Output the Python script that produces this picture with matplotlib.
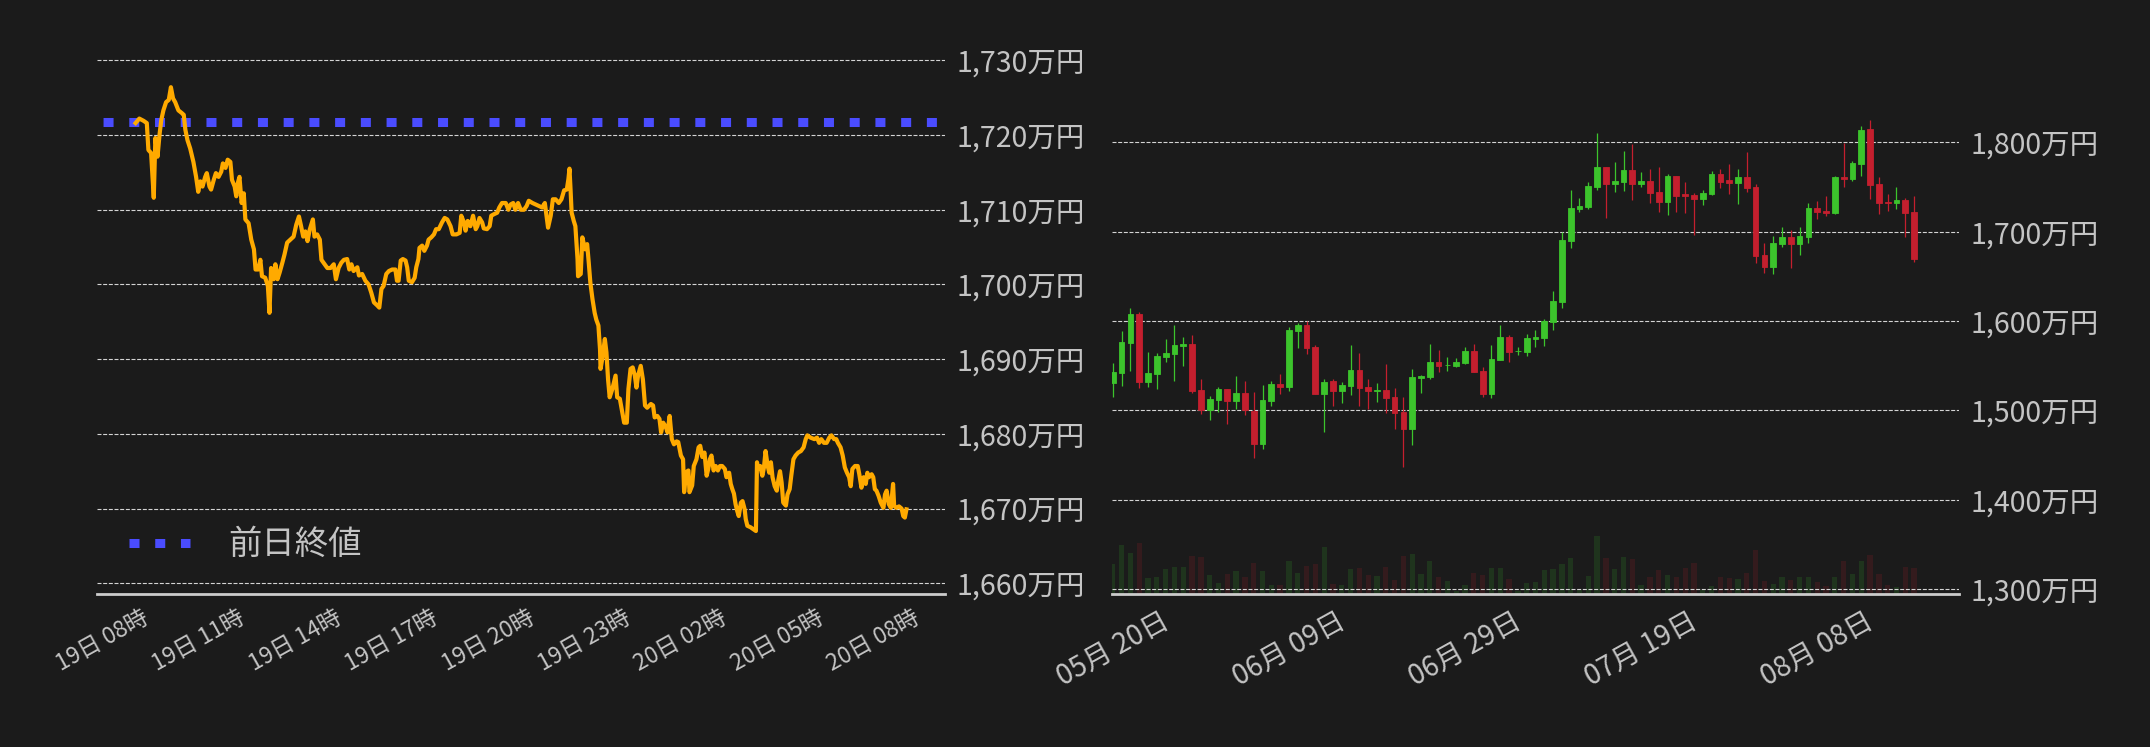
import matplotlib
matplotlib.use("Agg")
import matplotlib.pyplot as plt
from matplotlib.lines import Line2D
from matplotlib.ticker import FuncFormatter

plt.rcParams['font.family'] = ['Noto Sans CJK JP', 'DejaVu Sans']

# ---- intraday (19日 09:00 -> 20日 09:00), minutes from 19日 09:00, 万円
minutes = [2, 9, 17, 23, 26, 31, 36, 39, 43, 47, 50, 54, 59, 64, 68, 72, 76, 82, 89, 92,
           95, 99, 104, 110, 115, 119, 123, 127, 132, 135, 140, 143, 148, 152, 157, 162, 165, 170, 174, 179,
           182, 187, 190, 193, 196, 200, 204, 207, 213, 218, 223, 226, 231, 235, 238, 244, 249, 252, 255, 260,
           263, 267, 271, 276, 280, 285, 291, 297, 302, 307, 311, 315, 319, 323, 327, 333, 336, 341, 346, 349,
           355, 360, 366, 372, 376, 381, 386, 391,
           397, 401, 405, 409, 416, 419, 425, 431, 437, 442, 447, 453, 457, 461, 465, 470, 475, 481, 487, 490,
           493, 497, 501, 506, 509, 512, 518, 523, 526, 530, 532, 537, 541, 546, 549, 554, 559, 563, 568, 574,
           579, 584, 590, 594, 601, 607, 610, 615, 618, 622, 627, 632, 637, 640, 644, 649, 652, 658, 663, 666,
           671, 677, 681, 686, 693, 698, 702, 707, 711, 716, 721, 727, 732, 736, 743, 749, 755, 761, 766, 769,
           772, 777, 781,
           786, 792, 797, 802, 807, 810, 812, 814, 816, 820, 823, 827, 828, 833, 836, 841, 845, 848, 851, 855,
           859, 862, 866, 869, 870, 874, 878, 881, 884, 887, 892, 895, 898, 901, 906, 909, 914, 919, 922, 926,
           930, 934, 937, 940, 945, 949, 953, 957, 964, 968, 971, 976, 980, 983, 987, 992, 995, 999, 1003, 1007,
           1012, 1015, 1020, 1024, 1026, 1030, 1034, 1036, 1041, 1044, 1049, 1053, 1056, 1060, 1064, 1068, 1071,
           1074, 1077, 1081, 1085, 1089, 1093, 1097, 1102, 1105, 1110, 1113, 1116, 1119, 1122, 1125, 1128,
           1132, 1135, 1139, 1141, 1144, 1150, 1156, 1160, 1162, 1164, 1168, 1172, 1175, 1178, 1182, 1185, 1188,
           1191, 1195, 1199, 1202, 1205, 1208, 1211, 1216, 1219, 1223, 1226, 1230, 1234, 1239, 1244, 1249, 1253,
           1256, 1262, 1269, 1274, 1278, 1282, 1287, 1292, 1297, 1301, 1306, 1310, 1313, 1318, 1322, 1326, 1330,
           1334, 1337, 1340, 1345, 1350, 1353, 1357, 1361, 1365, 1368, 1371, 1376, 1379, 1382, 1385, 1389, 1393,
           1398, 1401, 1404, 1408, 1412, 1416, 1418, 1422, 1427, 1432, 1435, 1438, 1441]
price = [1721.6, 1722.2, 1721.9, 1721.6, 1718.0, 1717.6, 1711.6, 1719.6, 1717.1, 1720.2, 1722.0, 1723.3, 1724.4, 1724.7, 1726.4, 1724.9, 1724.4, 1723.3, 1722.9, 1722.7,
         1720.7, 1719.3, 1718.2, 1716.4, 1714.4, 1712.4, 1713.8, 1713.1, 1714.4, 1714.9, 1713.1, 1712.7, 1714.0, 1714.9, 1714.4, 1715.1, 1716.2, 1715.6, 1716.7, 1716.4,
         1714.0, 1713.1, 1711.8, 1713.6, 1714.4, 1710.9, 1712.2, 1708.7, 1708.2, 1706.0, 1704.7, 1702.0, 1702.0, 1703.3, 1701.1, 1700.9, 1699.8, 1696.2, 1702.2, 1700.7,
         1702.7, 1700.7, 1701.6, 1702.9, 1704.0, 1705.6, 1706.0, 1706.4, 1708.0, 1709.1, 1707.8, 1706.4, 1707.1, 1705.8, 1707.3, 1708.7, 1706.4, 1706.7, 1706.0, 1703.3,
         1702.7, 1702.2, 1702.2, 1702.7, 1700.7, 1702.2, 1702.9, 1703.3,
         1703.4, 1702.0, 1702.7, 1701.8, 1702.3, 1701.2, 1701.4, 1700.5, 1700.0, 1698.9, 1697.6, 1697.2, 1696.9, 1699.4, 1699.8, 1701.4, 1701.8, 1702.0, 1702.0, 1700.5,
         1700.5, 1703.2, 1703.4, 1703.2, 1702.3, 1700.5, 1700.3, 1700.9, 1702.3, 1703.4, 1704.9, 1705.2, 1704.5, 1705.2, 1706.0, 1706.3, 1706.7, 1707.4, 1707.4, 1708.3,
         1708.9, 1708.7, 1707.8, 1706.7, 1706.7, 1706.9, 1709.2, 1708.3, 1707.2, 1708.5, 1707.8, 1709.2, 1707.4, 1707.8, 1708.9, 1708.3, 1707.5, 1707.4, 1707.8, 1709.2,
         1709.4, 1709.6, 1710.3, 1710.9, 1710.9, 1710.0, 1710.7, 1710.9, 1710.0, 1710.9, 1710.0, 1710.0, 1710.5, 1711.2, 1710.9, 1710.7, 1710.5, 1710.3, 1710.9, 1709.2,
         1707.6, 1709.2, 1711.4,
         1711.4, 1710.9, 1711.4, 1712.6, 1712.7, 1714.1, 1715.5, 1712.7, 1709.6, 1708.5, 1707.8, 1703.4, 1701.1, 1701.4, 1706.3, 1704.7, 1705.4, 1702.9, 1700.2, 1698.0,
         1696.2, 1695.3, 1694.5, 1691.3, 1688.7, 1690.4, 1692.7, 1690.9, 1687.3, 1684.9, 1686.0, 1686.9, 1687.8, 1684.9, 1684.7, 1683.5, 1681.5, 1681.5, 1686.0, 1688.7,
         1688.9, 1687.8, 1686.2, 1687.8, 1689.1, 1687.3, 1683.8, 1683.5, 1684.0, 1683.8, 1682.2, 1682.4, 1682.0, 1680.2, 1681.5, 1680.9, 1680.2, 1682.4, 1679.3, 1678.6,
         1679.0, 1678.9, 1677.1, 1676.6, 1672.2, 1674.9, 1675.1, 1672.2, 1673.1, 1675.7, 1676.6, 1678.2, 1678.4, 1676.9, 1677.5, 1674.4, 1675.3,
         1676.6, 1677.1, 1675.1, 1675.7, 1675.1, 1675.7, 1675.7, 1675.3, 1674.2, 1674.8, 1673.3, 1672.6, 1672.0, 1670.6, 1669.7, 1669.0,
         1670.8, 1671.0, 1669.9, 1668.6, 1667.7, 1667.5, 1667.2, 1667.0, 1676.2, 1675.3, 1675.7, 1674.4, 1675.5, 1677.7, 1675.7, 1674.8, 1676.2,
         1674.2, 1673.0, 1672.4, 1673.9, 1675.0, 1673.5, 1670.8, 1670.4, 1671.9, 1672.6, 1674.4, 1676.6, 1677.1, 1677.5, 1677.7, 1678.2, 1679.3,
         1679.8, 1679.5, 1679.3, 1679.5, 1678.8, 1679.3, 1678.8, 1678.8, 1679.5, 1679.8, 1679.3, 1679.3, 1678.8, 1678.2, 1677.1, 1675.5, 1674.8,
         1674.2, 1673.0, 1675.3, 1675.7, 1675.7, 1674.6, 1672.8, 1674.2, 1673.3, 1674.8, 1674.2, 1674.6, 1674.2, 1672.6, 1672.4, 1671.7, 1670.8,
         1670.1, 1671.9, 1672.4, 1670.6, 1670.1, 1673.3, 1670.4, 1670.1, 1670.3, 1670.0, 1669.0, 1668.8, 1669.9]
prev_close = 1721.7
hour_ticks = [8, 11, 14, 17, 20, 23, 26, 29, 32]
hour_labels = ['19日 08時', '19日 11時', '19日 14時', '19日 17時', '19日 20時',
               '19日 23時', '20日 02時', '20日 05時', '20日 08時']
left_yticks = [1660, 1670, 1680, 1690, 1700, 1710, 1720, 1730]

# ---- daily candles from 05月20日 (index 0) to 08月19日 (index 91), 万円
opens = [1531.0, 1542.2, 1575.7, 1607.8, 1532.1, 1541.0, 1560.0, 1563.4, 1572.4, 1574.3,
         1522.8, 1500.7, 1511.9, 1523.9, 1510.8, 1519.4, 1499.6, 1462.7, 1510.8, 1529.5,
         1526.5, 1589.2, 1595.5, 1570.9, 1518.7, 1532.8, 1522.0, 1527.6, 1545.1, 1526.1,
         1522.0, 1522.8, 1514.9, 1498.1, 1479.5, 1536.6, 1537.7, 1554.1, 1550.4, 1550.0,
         1553.4, 1566.4, 1544.0, 1518.7, 1556.7, 1582.1, 1566.0, 1565.7, 1580.2, 1581.3,
         1598.5, 1621.6, 1689.9, 1725.7, 1728.0, 1750.4, 1772.4, 1753.7, 1756.0, 1769.0,
         1753.7, 1756.7, 1744.4, 1733.6, 1762.3, 1742.2, 1741.0, 1736.9, 1742.5, 1764.6,
         1757.8, 1754.9, 1761.2, 1750.0, 1673.9, 1660.8, 1686.6, 1694.0, 1686.6, 1694.4,
         1726.5, 1723.1, 1721.3, 1761.2, 1759.3, 1776.1, 1814.9, 1753.4, 1733.2, 1732.5,
         1735.4, 1722.0]
highs = [1553.0, 1588.8, 1614.6, 1610.1, 1565.3, 1564.2, 1579.9, 1595.5, 1582.1, 1584.3,
         1535.1, 1516.0, 1526.5, 1523.9, 1538.4, 1532.8, 1520.5, 1528.4, 1532.8, 1540.7,
         1593.3, 1597.8, 1599.6, 1573.1, 1535.1, 1535.1, 1531.7, 1573.1, 1564.2, 1535.1,
         1530.6, 1551.9, 1525.0, 1514.9, 1546.3, 1539.6, 1574.3, 1567.5, 1559.7, 1558.6,
         1570.9, 1574.3, 1548.5, 1573.1, 1595.5, 1584.3, 1570.9, 1585.4, 1589.9, 1602.2,
         1633.6, 1699.6, 1746.6, 1737.7, 1755.6, 1810.4, 1772.4, 1778.0, 1790.3, 1798.1,
         1766.8, 1770.1, 1772.4, 1764.6, 1762.3, 1755.6, 1743.3, 1746.6, 1767.9, 1770.1,
         1775.7, 1770.1, 1789.2, 1753.4, 1687.3, 1695.1, 1705.2, 1701.9, 1705.2, 1732.1,
         1734.3, 1739.9, 1762.3, 1799.3, 1779.1, 1818.3, 1825.0, 1761.2, 1742.2, 1750.0,
         1737.7, 1739.9]
lows = [1515.3, 1527.6, 1544.4, 1525.4, 1526.5, 1524.3, 1554.5, 1533.2, 1550.0, 1519.8,
        1496.3, 1489.6, 1498.5, 1485.1, 1501.9, 1495.1, 1447.0, 1457.1, 1505.2, 1518.7,
        1522.0, 1570.1, 1563.4, 1518.7, 1476.1, 1505.2, 1508.6, 1517.5, 1505.2, 1501.9,
        1509.7, 1497.4, 1479.5, 1436.9, 1461.6, 1519.8, 1535.4, 1543.3, 1544.4, 1548.9,
        1552.2, 1543.3, 1515.3, 1514.2, 1556.7, 1554.5, 1562.3, 1561.2, 1571.3, 1572.4,
        1590.3, 1614.9, 1682.1, 1722.4, 1725.7, 1747.0, 1715.7, 1744.8, 1745.9, 1735.8,
        1750.4, 1732.5, 1722.4, 1719.0, 1722.4, 1721.3, 1696.6, 1730.2, 1741.4, 1749.3,
        1742.5, 1731.3, 1744.8, 1665.3, 1654.1, 1653.0, 1683.2, 1659.7, 1674.3, 1687.7,
        1714.6, 1717.9, 1720.1, 1750.4, 1757.1, 1762.7, 1736.9, 1720.1, 1723.5, 1725.7,
        1694.4, 1666.4]
closes = [1542.5, 1576.5, 1607.8, 1532.1, 1541.4, 1560.4, 1564.2, 1573.1, 1574.3, 1522.0,
          1500.7, 1512.7, 1523.9, 1510.8, 1519.4, 1500.4, 1462.7, 1511.6, 1529.5, 1526.5,
          1589.9, 1595.5, 1570.1, 1518.7, 1531.7, 1522.0, 1528.4, 1545.1, 1525.4, 1522.0,
          1523.1, 1514.2, 1497.4, 1479.5, 1537.3, 1538.4, 1554.1, 1550.0, 1551.1, 1554.1,
          1566.4, 1543.3, 1518.7, 1557.5, 1582.1, 1565.7, 1566.8, 1581.0, 1582.1, 1599.6,
          1622.4, 1690.7, 1726.5, 1728.7, 1751.1, 1772.4, 1753.7, 1756.7, 1769.0, 1753.7,
          1756.7, 1743.7, 1733.6, 1762.3, 1740.3, 1740.3, 1736.9, 1743.3, 1764.6, 1756.0,
          1754.9, 1761.2, 1749.3, 1673.1, 1660.8, 1687.3, 1694.0, 1686.6, 1695.1, 1726.5,
          1722.4, 1721.3, 1761.2, 1759.3, 1776.9, 1813.8, 1752.6, 1732.5, 1732.5, 1735.4,
          1721.3, 1669.8]
volume = [90, 146, 122, 152, 47, 50, 74, 80, 80, 113, 110, 56, 32, 59, 68, 50, 92, 68, 26, 26,
          98, 62, 83, 89, 140, 29, 26, 74, 77, 56, 53, 80, 41, 113, 119, 59, 98, 50, 38, 10,
          26, 62, 56, 77, 77, 44, 10, 32, 35, 71, 74, 89, 107, 13, 53, 173, 107, 74, 110, 104,
          26, 50, 71, 56, 50, 77, 92, 13, 23, 50, 47, 44, 62, 131, 38, 29, 50, 41, 50, 50,
          35, 23, 50, 98, 59, 98, 116, 59, 26, 20, 80, 77]
day_ticks = [0, 20, 40, 60, 80]
day_labels = ['05月 20日', '06月 09日', '06月 29日', '07月 19日', '08月 08日']
right_yticks = [1300, 1400, 1500, 1600, 1700, 1800]

BG = '#1b1b1b'
TXT = '#c4c4c4'
GRID = '#d4d4d4'
UP = '#3cc42c'
DOWN = '#c41f2e'

fig = plt.figure(figsize=(21.5, 7.47), dpi=100, facecolor=BG)
W, H = 2150, 747
ax1 = fig.add_axes([97 / W, 153 / H, 848 / W, 539 / H], facecolor=BG)
ax2 = fig.add_axes([1111.5 / W, 153 / H, 847.5 / W, 539 / H], facecolor=BG)

yen = FuncFormatter(lambda v, p: f"{int(round(v)):,}万円")


def style(ax, ticks, labels, xsize):
    for s in ['top', 'left', 'right']:
        ax.spines[s].set_visible(False)
    ax.spines['bottom'].set_color('#cccccc')
    ax.spines['bottom'].set_linewidth(2)
    ax.yaxis.tick_right()
    ax.yaxis.set_major_formatter(yen)
    ax.yaxis.grid(True, color=GRID, linestyle=(0, (3.6, 1.5)), linewidth=0.8)
    ax.set_axisbelow(True)
    ax.tick_params(axis='y', length=0, pad=8, labelsize=20.5, labelcolor=TXT)
    ax.tick_params(axis='x', length=0, pad=9, labelsize=xsize, labelcolor=TXT)
    ax.set_xticks(ticks)
    ax.set_xticklabels(labels, rotation=29, ha='center')


# left: intraday line
hours = [9 + m / 60 for m in minutes]
span = hours[-1] - hours[0]
ax1.plot(hours, price, color='#ffaa00', lw=3.0, zorder=3)
ax1.axhline(prev_close, color='#4a4cff', lw=6.5, linestyle=(2.18, (1.11, 1.74)), zorder=2)
ax1.set_xlim(hours[0] - 0.05 * span, hours[-1] + 0.05 * span)
ax1.set_ylim(1658.57, 1730.71)
ax1.set_yticks(left_yticks)
style(ax1, hour_ticks, hour_labels, 16.5)
proxy = Line2D([], [], color='#4a4cff', lw=6.5, linestyle=(0, (1.11, 1.74)))
leg = ax1.legend([proxy], ['前日終値'], loc='center left', bbox_to_anchor=(0.0374, 0.0915),
                 frameon=False, borderpad=0, borderaxespad=0, handlelength=1.84,
                 handletextpad=1.14, prop={'size': 24})
for t in leg.get_texts():
    t.set_color(TXT)

# right: daily candles + volume
idx = list(range(len(opens)))
colors = [UP if c >= o else DOWN for o, c in zip(opens, closes)]
vax = ax2.twinx()
vax.bar(idx, volume, width=0.6, color=colors, alpha=0.15)
vax.set_ylim(0, 1616)
vax.axis('off')
ax2.set_zorder(vax.get_zorder() + 1)
ax2.patch.set_visible(False)

ax2.vlines(idx, lows, highs, colors=colors, lw=0.9, zorder=2)
bottoms = [min(o, c) for o, c in zip(opens, closes)]
heights = [max(abs(c - o), 0.8) for o, c in zip(opens, closes)]
ax2.bar(idx, heights, bottom=bottoms, width=0.65, color=colors, edgecolor=colors,
        linewidth=0.6, zorder=3)
ax2.set_xlim(-0.15, 96.1)
ax2.set_ylim(1294.4, 1897.7)
ax2.set_yticks(right_yticks)
style(ax2, day_ticks, day_labels, 20)

fig.savefig('out.png', dpi=100, facecolor=BG)
